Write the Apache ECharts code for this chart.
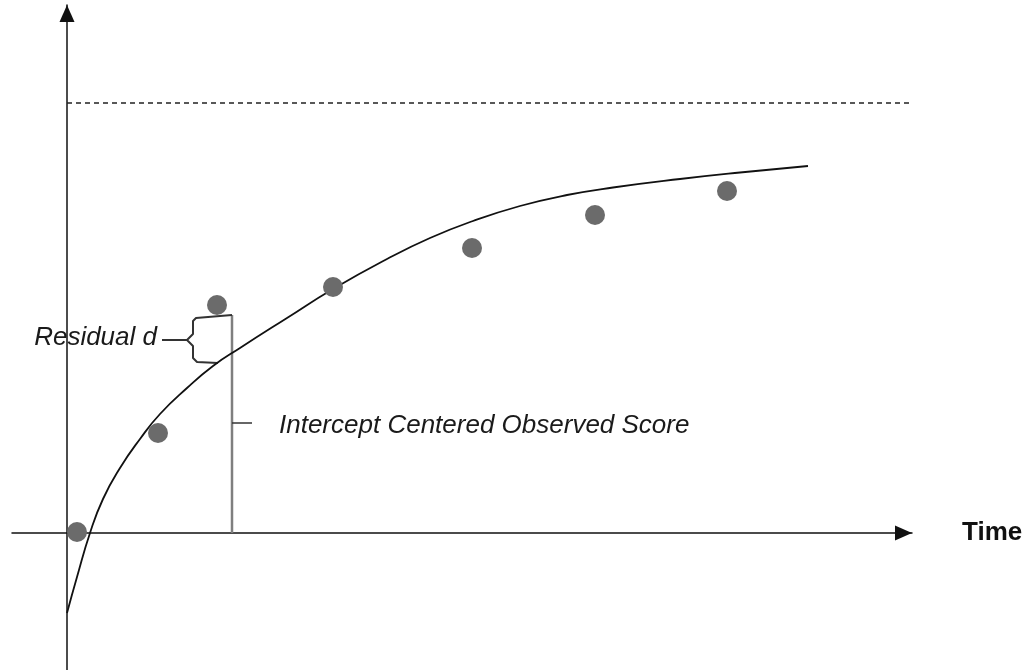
<!DOCTYPE html>
<html>
<head>
<meta charset="utf-8">
<title>Intercept Centered Observed Score</title>
<script src="https://cdn.jsdelivr.net/npm/echarts@6/dist/echarts.min.js"></script>
<style>
    html, body { margin: 0; padding: 0; background: #fff; }
    #chart { width: 1029px; height: 670px; }
</style>
</head>
<body>
<div id="chart"></div>
<script>
// Observed scores over time
const obsTime = [0.10, 0.91, 1.50, 2.66, 4.05, 5.28, 6.60];
const obsScore = [0.01, 1.00, 2.28, 2.46, 2.85, 3.18, 3.42];

// Fitted growth curve
const curveTime = [0.00, 0.10, 0.23, 0.36, 0.53, 0.73, 0.93, 1.20, 1.46, 1.73, 2.20, 2.66,
    3.20, 3.63, 4.06, 4.53, 5.00, 5.46, 6.13, 6.73, 7.41];
const curveScore = [-0.80, -0.44, 0.00, 0.34, 0.65, 0.94, 1.19, 1.45, 1.67, 1.85, 2.15, 2.44,
    2.74, 2.95, 3.12, 3.27, 3.38, 3.455, 3.54, 3.605, 3.67];

// Asymptote level
const asymptote = 4.30;

// Axis range
const timeRange = [-0.55, 8.45];
const scoreRange = [-1.37, 5.28];

// Annotation for the third observation
const barTime = 1.65;
const barTop = 2.18;
const barTick = [1.10, 1.85];
const braceTime = [1.65, 1.29, 1.26, 1.26, 1.20, 1.26, 1.26, 1.30, 1.51];
const braceScore = [2.18, 2.15, 2.12, 1.99, 1.93, 1.87, 1.75, 1.71, 1.70];
const pointerTime = [1.20, 0.95];
const residualLabel = 'Residual d';
const interceptLabel = 'Intercept Centered Observed Score';
const interceptLabelAt = [2.12, 1.07];

const zip = (xs, ys) => xs.map((x, i) => [x, ys[i]]);

const chart = echarts.init(document.getElementById('chart'));

const textStyle = {
    fontFamily: 'Liberation Sans',
    fontStyle: 'italic',
    fontSize: 26,
    color: '#1a1a1a'
};

const axisLine = {
    onZero: true,
    symbol: ['none', 'triangle'],
    symbolSize: [15, 17],
    symbolOffset: [0, -8.5],
    lineStyle: { color: '#111', width: 1.5 }
};

const option = {
    animation: false,
    grid: { left: 12, right: 117, top: 5, bottom: 0 },
    xAxis: {
        type: 'value',
        min: timeRange[0],
        max: timeRange[1],
        name: 'Time',
        nameLocation: 'end',
        nameGap: 50,
        nameTextStyle: {
            fontFamily: 'Liberation Sans',
            fontWeight: 'bold',
            fontSize: 26,
            color: '#111'
        },
        axisLine: axisLine,
        axisTick: { show: false },
        axisLabel: { show: false },
        splitLine: { show: false }
    },
    yAxis: {
        type: 'value',
        min: scoreRange[0],
        max: scoreRange[1],
        axisLine: axisLine,
        axisTick: { show: false },
        axisLabel: { show: false },
        splitLine: { show: false }
    },
    series: [
        {
            // dashed upper asymptote
            type: 'line',
            data: [[0, asymptote], [timeRange[1] - 0.02, asymptote]],
            showSymbol: false,
            silent: true,
            lineStyle: { color: '#222', width: 1.5, type: [5, 4] }
        },
        {
            // observed score bar
            type: 'line',
            data: [[barTime, 0], [barTime, barTop]],
            showSymbol: false,
            silent: true,
            lineStyle: { color: '#7f7f7f', width: 2.5 }
        },
        {
            // small tick on the bar
            type: 'line',
            data: [[barTime, barTick[0]], [barTick[1], barTick[0]]],
            showSymbol: false,
            silent: true,
            lineStyle: { color: '#333', width: 1.5 }
        },
        {
            // residual brace
            type: 'line',
            data: zip(braceTime, braceScore),
            showSymbol: false,
            silent: true,
            lineStyle: { color: '#333', width: 2 }
        },
        {
            // brace pointer
            type: 'line',
            data: pointerTime.map(t => [t, braceScore[4]]),
            showSymbol: false,
            silent: true,
            lineStyle: { color: '#333', width: 2 }
        },
        {
            // fitted curve
            type: 'line',
            data: zip(curveTime, curveScore),
            smooth: 0.5,
            showSymbol: false,
            lineStyle: { color: '#111', width: 1.8 },
            z: 3
        },
        {
            type: 'scatter',
            data: zip(obsTime, obsScore),
            symbolSize: 20,
            itemStyle: { color: '#6b6b6b', opacity: 1 },
            z: 4
        },
        {
            // text annotations
            type: 'scatter',
            symbolSize: 0,
            silent: true,
            clip: false,
            itemStyle: { opacity: 1 },
            data: [
                {
                    value: [pointerTime[1], braceScore[4] + 0.02],
                    label: { show: true, position: 'left', distance: 5, formatter: residualLabel, ...textStyle }
                },
                {
                    value: interceptLabelAt,
                    label: { show: true, position: 'right', distance: 0, formatter: interceptLabel, ...textStyle }
                }
            ]
        }
    ]
};

chart.setOption(option);
window.addEventListener('resize', () => chart.resize());
</script>
</body>
</html>
